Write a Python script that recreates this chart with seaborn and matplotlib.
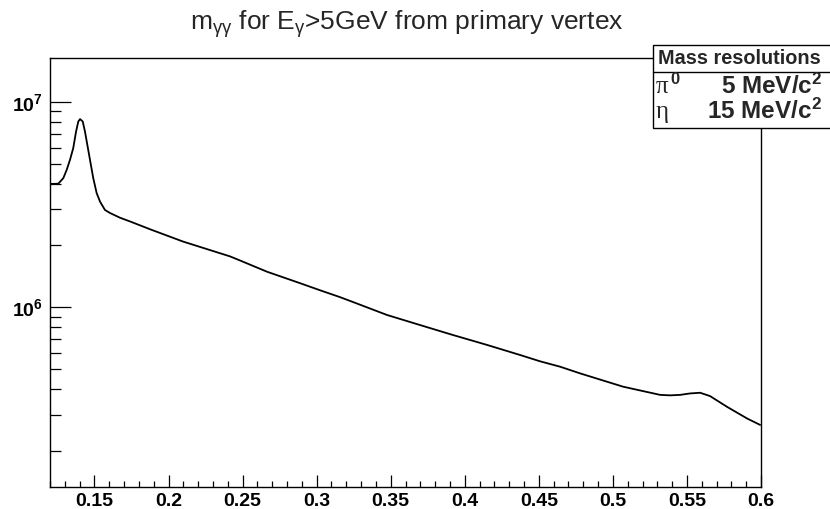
import seaborn as sns
import matplotlib.pyplot as plt
from matplotlib.patches import Rectangle
from matplotlib.lines import Line2D
from matplotlib.ticker import LogLocator, NullFormatter, MultipleLocator

# diphoton invariant mass (GeV/c^2) and entries
mass = [0.1200, 0.1256, 0.1290, 0.1313, 0.1335, 0.1357, 0.1376, 0.1391,
        0.1403, 0.1421, 0.1436, 0.1452, 0.1470, 0.1492, 0.1515, 0.1538,
        0.1571, 0.1605, 0.1673, 0.1740, 0.1875,
        0.2098, 0.2415, 0.2483, 0.2665, 0.2888, 0.3023, 0.3158, 0.3246,
        0.3475, 0.3698, 0.3921, 0.4151, 0.4374, 0.4509, 0.4644, 0.4779,
        0.5069, 0.5319, 0.5387, 0.5454, 0.5520, 0.5589, 0.5656, 0.5771,
        0.5906, 0.5994]
counts = [3.99e6, 4.00e6, 4.26e6, 4.68e6, 5.23e6, 5.97e6, 7.19e6, 8.04e6,
          8.26e6, 8.04e6, 7.19e6, 6.19e6, 5.23e6, 4.26e6, 3.60e6, 3.27e6,
          2.98e6, 2.88e6, 2.73e6, 2.62e6, 2.40e6,
          2.09e6, 1.77e6, 1.69e6, 1.49e6, 1.31e6, 1.21e6, 1.12e6, 1.06e6,
          9.17e5, 8.19e5, 7.32e5, 6.55e5, 5.85e5, 5.45e5, 5.13e5, 4.76e5,
          4.10e5, 3.74e5, 3.72e5, 3.74e5, 3.80e5, 3.83e5, 3.69e5, 3.27e5,
          2.87e5, 2.67e5]

x_ticks = [0.15, 0.2, 0.25, 0.3, 0.35, 0.4, 0.45, 0.5, 0.55, 0.6]
x_labels = ['0.15', '0.2', '0.25', '0.3', '0.35', '0.4', '0.45', '0.5', '0.55', '0.6']
y_ticks = [1e6, 1e7]
y_labels = [r'$\mathbf{10^{6}}$', r'$\mathbf{10^{7}}$']

title = r'm$_{\gamma\gamma}$ for E$_{\gamma}$>5GeV from primary vertex'
legend_title = 'Mass resolutions'
particles = ['π', 'η']
particle_sup = ['0', '']
resolutions = [r'5 MeV/c$^{\mathbf{2}}$', r'15 MeV/c$^{\mathbf{2}}$']

sns.set_theme(style='white')
plt.rcParams['font.family'] = ['Liberation Sans', 'DejaVu Sans']
plt.rcParams['mathtext.fontset'] = 'custom'
plt.rcParams['mathtext.rm'] = 'Liberation Sans'
plt.rcParams['mathtext.it'] = 'Liberation Sans'
plt.rcParams['mathtext.bf'] = 'Liberation Sans:bold'

W, H = 830, 509
fig = plt.figure(figsize=(W / 100, H / 100), dpi=100)
fig.patch.set_facecolor('white')
ax = fig.add_axes([50 / W, (H - 487) / H, (761 - 50) / W, (487 - 58) / H])

sns.lineplot(x=mass, y=counts, ax=ax, color='black', linewidth=1.3,
             estimator=None, sort=False)

ax.set_yscale('log')
ax.set_xlim(0.12, 0.6)
ax.set_ylim(1.33e5, 1.64e7)

ax.set_xticks(x_ticks, x_labels)
ax.xaxis.set_minor_locator(MultipleLocator(0.01))
ax.set_yticks(y_ticks, y_labels)
ax.yaxis.set_minor_locator(LogLocator(base=10, subs=range(2, 10)))
ax.yaxis.set_minor_formatter(NullFormatter())

ax.tick_params(axis='both', which='both', direction='in', bottom=True, left=True,
               top=False, right=False, color='black', width=0.9, labelcolor='black')
ax.tick_params(axis='x', which='major', length=9, pad=4, labelsize=14)
ax.tick_params(axis='x', which='minor', length=4.3)
ax.tick_params(axis='y', which='major', length=15, pad=5, labelsize=14)
ax.tick_params(axis='y', which='minor', length=7.7)
for lab in ax.get_xticklabels():
    lab.set_fontweight('bold')

for sp in ax.spines.values():
    sp.set_color('black')
    sp.set_linewidth(1.0)

fig.text(407 / W, 1 - 30 / H, title, ha='center', va='baseline', fontsize=19)

# stats-like box in the top right corner
fig.add_artist(Rectangle((653 / W, (H - 128) / H), (845 - 653) / W, (128 - 45) / H,
                         transform=fig.transFigure, facecolor='white',
                         edgecolor='black', linewidth=1.0, clip_on=False))
fig.add_artist(Line2D([653 / W, 1], [(H - 72) / H] * 2, color='black', linewidth=1.0))
fig.text(658 / W, 1 - 59 / H, legend_title, ha='left', va='center',
         fontsize=14.3, fontweight='bold')
for i, (p, s, r) in enumerate(zip(particles, particle_sup, resolutions)):
    yc = 85 + 25 * i
    fig.text(656 / W, 1 - (yc + 2) / H, p, ha='left', va='center',
             fontsize=18, family='Liberation Serif')
    if s:
        fig.text(670 / W, 1 - (yc - 5) / H, s, ha='left', va='center',
                 fontsize=12, fontweight='bold')
    fig.text(822 / W, 1 - (yc + 1) / H, r, ha='right', va='center',
             fontsize=17.5, fontweight='bold')

fig.savefig('out.png', dpi=100)
